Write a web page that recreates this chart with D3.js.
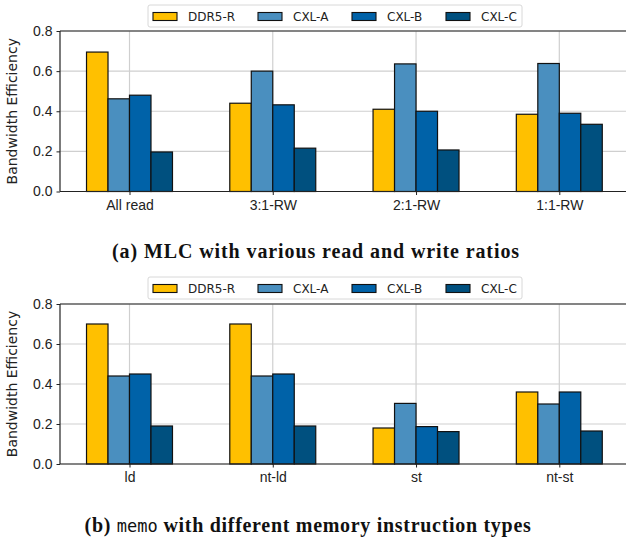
<!DOCTYPE html>
<html>
<head>
<meta charset="utf-8">
<script src="https://cdn.jsdelivr.net/npm/d3@7"></script>
<style>
  body { margin: 0; background: #fff; }
  svg { display: block; font-family: 'DejaVu Sans', sans-serif; }
  .caption { font-family: 'Liberation Serif', serif; font-weight: bold; font-size: 20px; letter-spacing: 0.9px; fill: #111; }
  .capb { letter-spacing: 0.7px; }
  .mono { font-family: 'DejaVu Sans Mono', monospace; font-weight: normal; font-size: 17px; letter-spacing: 0; }
</style>
</head>
<body>
<svg id="chart" width="626" height="542"></svg>
<script>
// data
const seriesNames = ['DDR5-R', 'CXL-A', 'CXL-B', 'CXL-C']
const seriesColors = ['#ffc000', '#4a8fbf', '#0062a8', '#00507f']
const yTicks = [0, 0.2, 0.4, 0.6, 0.8]

const mlcCategories = ['All read', '3:1-RW', '2:1-RW', '1:1-RW']
const mlcValues = [
  [0.695, 0.44, 0.41, 0.385],   // DDR5-R
  [0.462, 0.60, 0.636, 0.638],  // CXL-A
  [0.48, 0.432, 0.40, 0.39],    // CXL-B
  [0.197, 0.216, 0.207, 0.335]  // CXL-C
]

const memoCategories = ['ld', 'nt-ld', 'st', 'nt-st']
const memoValues = [
  [0.70, 0.70, 0.18, 0.36],     // DDR5-R
  [0.44, 0.44, 0.303, 0.30],    // CXL-A
  [0.45, 0.45, 0.187, 0.36],    // CXL-B
  [0.19, 0.19, 0.162, 0.165]    // CXL-C
]

const svg = d3.select('#chart')
const left = 60
const right = 626
const barW = 0.15

const drawPanel = (categories, values, top, bottom, legendTop) => {
  const g = svg.append('g')
  const x = d3.scaleLinear().domain([0, 3]).range([129.5, 559.3])
  const y = d3.scaleLinear().domain([0, 0.8]).range([bottom, top])

  // grid
  g.selectAll('.hgrid').data(yTicks).enter().append('line')
    .attr('x1', left).attr('x2', right)
    .attr('y1', d => y(d)).attr('y2', d => y(d))
    .attr('stroke', '#cfcfcf').attr('stroke-width', 1.2)
  g.selectAll('.vgrid').data(categories).enter().append('line')
    .attr('x1', (d, i) => x(i)).attr('x2', (d, i) => x(i))
    .attr('y1', top).attr('y2', bottom)
    .attr('stroke', '#cfcfcf').attr('stroke-width', 1.2)

  // bars
  values.forEach((vals, s) => {
    g.selectAll('.bar' + s).data(vals).enter().append('rect')
      .attr('x', (d, i) => x(i + (s - 2) * barW))
      .attr('width', x(barW) - x(0))
      .attr('y', d => y(d))
      .attr('height', d => y(0) - y(d))
      .attr('fill', seriesColors[s])
      .attr('stroke', '#111').attr('stroke-width', 1.2)
  })

  // axes
  const yAxis = d3.axisLeft(y).tickValues(yTicks).tickFormat(d3.format('.1f')).tickSize(3.5).tickPadding(4)
  const ya = g.append('g').attr('transform', `translate(${left},0)`).call(yAxis)
  ya.select('.domain').remove()
  ya.selectAll('text').style('font-size', '14px').attr('fill', '#222')
  ya.selectAll('line').attr('stroke', '#222')

  const xAxis = d3.axisBottom(x).tickValues([0, 1, 2, 3]).tickFormat(i => categories[i]).tickSize(3.5).tickPadding(5)
  const xa = g.append('g').attr('transform', `translate(0,${bottom})`).call(xAxis)
  xa.select('.domain').remove()
  xa.selectAll('text').style('font-size', '14px').attr('fill', '#222')
  xa.selectAll('line').attr('stroke', '#222')

  // spines
  g.append('line').attr('x1', left).attr('x2', left).attr('y1', top).attr('y2', bottom).attr('stroke', '#222').attr('stroke-width', 1.2)
  g.append('line').attr('x1', left).attr('x2', right).attr('y1', top).attr('y2', top).attr('stroke', '#222').attr('stroke-width', 1.2)
  g.append('line').attr('x1', left).attr('x2', right).attr('y1', bottom).attr('y2', bottom).attr('stroke', '#222').attr('stroke-width', 1.2)

  g.append('text')
    .attr('transform', `translate(17,${(top + bottom) / 2}) rotate(-90)`)
    .attr('text-anchor', 'middle')
    .style('font-size', '14px').attr('fill', '#222')
    .text('Bandwidth Efficiency')

  // legend
  const lg = g.append('g').attr('transform', `translate(148,${legendTop})`)
  lg.append('rect').attr('width', 374).attr('height', 22).attr('rx', 2)
    .attr('fill', '#fff').attr('stroke', '#d8d8d8')
  const itemX = [5, 110, 204, 298]
  seriesNames.forEach((name, s) => {
    lg.append('rect').attr('x', itemX[s]).attr('y', 7.5).attr('width', 24).attr('height', 8)
      .attr('fill', seriesColors[s]).attr('stroke', '#111').attr('stroke-width', 1.1)
    lg.append('text').attr('x', itemX[s] + 35).attr('y', 15.5)
      .style('font-size', '12px').attr('fill', '#222').text(name)
  })
}

drawPanel(mlcCategories, mlcValues, 31, 191.5, 5)
drawPanel(memoCategories, memoValues, 304, 464, 277)

svg.append('text').attr('class', 'caption').attr('x', 316).attr('y', 258)
  .attr('text-anchor', 'middle').text('(a) MLC with various read and write ratios')

const cap = svg.append('text').attr('class', 'caption capb').attr('x', 308).attr('y', 532)
  .attr('text-anchor', 'middle')
cap.append('tspan').text('(b) ')
cap.append('tspan').attr('class', 'mono').text('memo')
cap.append('tspan').text(' with different memory instruction types')
</script>
</body>
</html>
